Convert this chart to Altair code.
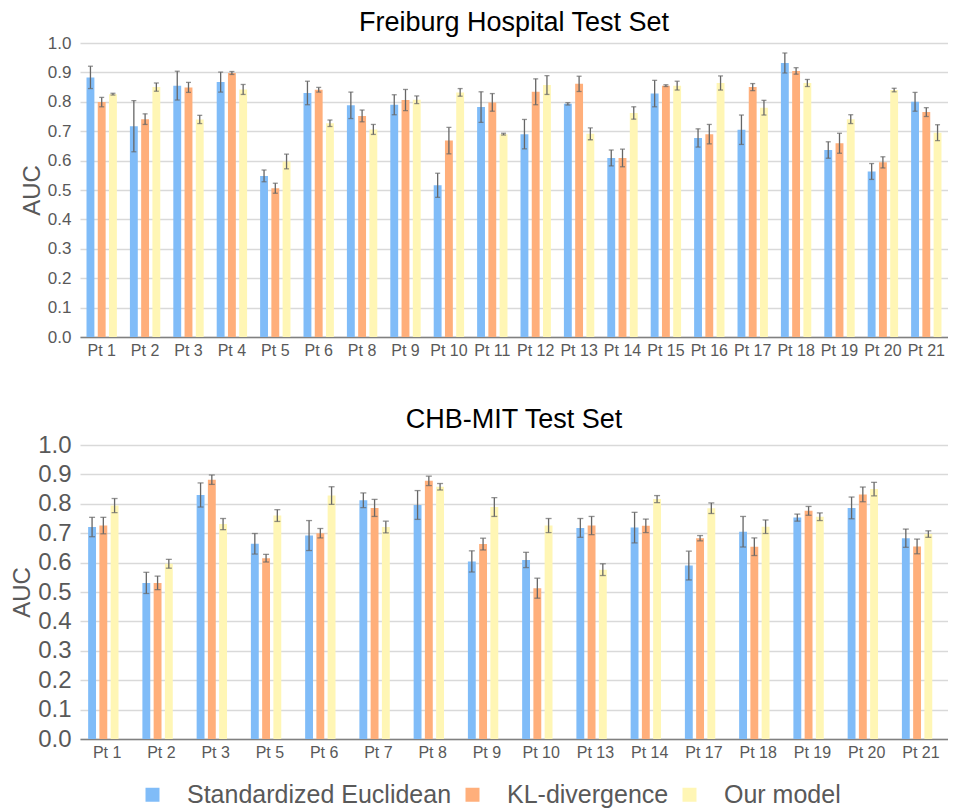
import altair as alt
import pandas as pd

series = ["Standardized Euclidean", "KL-divergence", "Our model"]
colors = ["#80BCF8", "#FFAF7B", "#FFF6B5"]

fr_pts = ["Pt 1", "Pt 2", "Pt 3", "Pt 4", "Pt 5", "Pt 6", "Pt 8", "Pt 9", "Pt 10", "Pt 11",
          "Pt 12", "Pt 13", "Pt 14", "Pt 15", "Pt 16", "Pt 17", "Pt 18", "Pt 19", "Pt 20", "Pt 21"]
fr_se = [0.883, 0.717, 0.855, 0.867, 0.548, 0.830, 0.788, 0.790, 0.516, 0.782,
         0.690, 0.793, 0.609, 0.828, 0.677, 0.705, 0.932, 0.636, 0.563, 0.800]
fr_se_err = [0.038, 0.087, 0.049, 0.034, 0.020, 0.040, 0.045, 0.034, 0.041, 0.052,
             0.050, 0.004, 0.027, 0.045, 0.031, 0.050, 0.034, 0.028, 0.027, 0.032]
fr_kl = [0.799, 0.741, 0.849, 0.898, 0.506, 0.841, 0.752, 0.806, 0.668, 0.798,
         0.834, 0.861, 0.609, 0.855, 0.690, 0.850, 0.905, 0.659, 0.594, 0.765]
fr_kl_err = [0.016, 0.018, 0.017, 0.005, 0.017, 0.008, 0.020, 0.036, 0.045, 0.030,
             0.044, 0.026, 0.030, 0.003, 0.033, 0.012, 0.011, 0.034, 0.019, 0.015]
fr_om = [0.826, 0.850, 0.740, 0.842, 0.597, 0.727, 0.706, 0.807, 0.832, 0.690,
         0.857, 0.691, 0.762, 0.855, 0.864, 0.780, 0.864, 0.741, 0.840, 0.695]
fr_om_err = [0.003, 0.014, 0.014, 0.017, 0.025, 0.011, 0.017, 0.013, 0.013, 0.003,
             0.032, 0.020, 0.021, 0.015, 0.024, 0.025, 0.012, 0.015, 0.006, 0.027]

chb_pts = ["Pt 1", "Pt 2", "Pt 3", "Pt 5", "Pt 6", "Pt 7", "Pt 8", "Pt 9", "Pt 10", "Pt 13",
           "Pt 14", "Pt 17", "Pt 18", "Pt 19", "Pt 20", "Pt 21"]
chb_se = [0.721, 0.531, 0.830, 0.664, 0.692, 0.812, 0.796, 0.604, 0.609, 0.718,
          0.719, 0.590, 0.705, 0.753, 0.786, 0.683]
chb_se_err = [0.033, 0.036, 0.041, 0.035, 0.051, 0.025, 0.049, 0.036, 0.026, 0.032,
              0.052, 0.049, 0.052, 0.012, 0.037, 0.031]
chb_kl = [0.726, 0.531, 0.882, 0.615, 0.700, 0.786, 0.878, 0.663, 0.513, 0.726,
          0.725, 0.683, 0.654, 0.776, 0.832, 0.655]
chb_kl_err = [0.028, 0.023, 0.016, 0.013, 0.016, 0.029, 0.016, 0.020, 0.034, 0.031,
              0.023, 0.009, 0.030, 0.015, 0.025, 0.025]
chb_om = [0.794, 0.596, 0.731, 0.760, 0.828, 0.721, 0.858, 0.789, 0.726, 0.576,
          0.816, 0.785, 0.722, 0.756, 0.850, 0.697]
chb_om_err = [0.024, 0.015, 0.019, 0.020, 0.030, 0.020, 0.011, 0.032, 0.024, 0.020,
              0.012, 0.018, 0.023, 0.013, 0.023, 0.011]


def build(pts, vals, errs):
    rows = []
    for s, v, e in zip(series, vals, errs):
        for p, vv, ee in zip(pts, v, e):
            rows.append({"pt": p, "method": s, "auc": vv, "lo": vv - ee, "hi": vv + ee})
    return pd.DataFrame(rows)


fr_df = build(fr_pts, [fr_se, fr_kl, fr_om], [fr_se_err, fr_kl_err, fr_om_err])
chb_df = build(chb_pts, [chb_se, chb_kl, chb_om], [chb_se_err, chb_kl_err, chb_om_err])

color_scale = alt.Scale(domain=series, range=colors)
yticks = [round(i * 0.1, 1) for i in range(11)]
FONT = "Liberation Sans"


def panel(df, pts, title, xfont, yfont, tick_w, toff):
    xscale = alt.Scale(paddingInner=0.3, paddingOuter=0.15)
    xaxis = alt.Axis(labelAngle=0, labelFontSize=xfont, labelColor="#595959",
                     ticks=False, domainColor="#808080", domainWidth=1.5,
                     labelPadding=5, labelFont=FONT)
    yaxis = alt.Axis(values=yticks, format=".1f", labelFontSize=yfont,
                     labelColor="#595959", titleColor="#595959", titleFontSize=24,
                     titleFontWeight="normal", titleFont=FONT,
                     labelFont=FONT, domain=False, ticks=False, labelOverlap=False,
                     gridColor="#D9D9D9", gridWidth=1.5, labelPadding=9,
                     titlePadding=3)
    yscale = alt.Scale(domain=[0, 1])

    def X():
        return alt.X("pt:N", sort=pts, title=None, scale=xscale, axis=xaxis)

    def Y(field):
        return alt.Y(field, title="AUC", scale=yscale, axis=yaxis)

    xo = alt.XOffset("method:N", sort=series, scale=alt.Scale(paddingInner=0.3))
    bars = alt.Chart(df).mark_bar().encode(
        x=X(), xOffset=xo, y=Y("auc:Q"),
        color=alt.Color("method:N", scale=color_scale, sort=series,
                        legend=alt.Legend(title=None, orient="none", direction="horizontal",
                                          legendX=60, legendY=739, symbolType="square",
                                          symbolSize=196, symbolStrokeWidth=0,
                                          labelFontSize=25, labelColor="#595959",
                                          labelFont=FONT, columnPadding=8,
                                          labelOffset=22, labelLimit=400)),
    )
    rule = alt.Chart(df).mark_rule(color="#666666", strokeWidth=1.3).encode(
        x=X(), xOffset=xo, y=Y("lo:Q"), y2="hi:Q")
    cap_lo = alt.Chart(df).mark_tick(color="#666666", thickness=1.3, size=tick_w).encode(
        x=X(), xOffset=xo, y=Y("lo:Q"))
    cap_hi = alt.Chart(df).mark_tick(color="#666666", thickness=1.3, size=tick_w).encode(
        x=X(), xOffset=xo, y=Y("hi:Q"))
    return alt.layer(bars, rule, cap_lo, cap_hi).properties(
        width=868, height=294,
        title=alt.TitleParams(title, fontSize=27, font=FONT,
                              fontWeight="normal", color="#000000", offset=toff),
    )


top = panel(fr_df, fr_pts, "Freiburg Hospital Test Set", 16, 17, 5, -3)
bottom = panel(chb_df, chb_pts, "CHB-MIT Test Set", 16, 24, 6, -1)

chart = alt.vconcat(top, bottom, spacing=48).properties(
    padding={"left": 2, "top": 1, "right": 0, "bottom": 0}
).configure_view(stroke=None).configure_concat(spacing=48)

chart.save("out.html", embed_options={"renderer": "svg", "actions": False})
